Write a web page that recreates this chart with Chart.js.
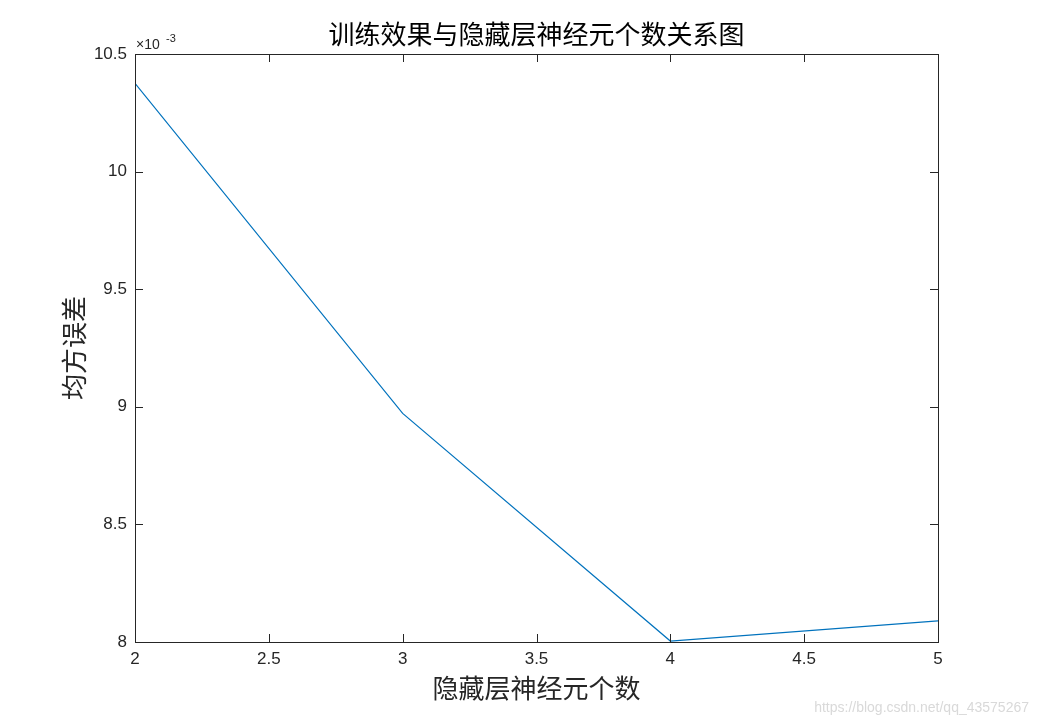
<!DOCTYPE html>
<html>
<head>
<meta charset="utf-8">
<script src="https://cdn.jsdelivr.net/npm/chart.js@4/dist/chart.umd.min.js"></script>
<style>
  html, body { margin: 0; padding: 0; background: #fff; }
  #wrap { width: 1038px; height: 722px; position: relative; }
</style>
</head>
<body>
<div id="wrap"><canvas id="chart"></canvas></div>
<script>
// 隐藏层神经元个数 vs 均方误差 (x1e-3)
var neurons = [2, 3, 4, 5];
var mse = [10.375, 8.972, 8.004, 8.090];
var xTicks = [2, 2.5, 3, 3.5, 4, 4.5, 5];
var yTicks = [8, 8.5, 9, 9.5, 10, 10.5];
var chartTitle = "训练效果与隐藏层神经元个数关系图";

var axisColor = "#262626";
var cjkFont = "'Noto Sans CJK SC', sans-serif";
var numFont = "'Liberation Sans', Arial, sans-serif";

// MATLAB style box with ticks pointing inward, title over the axes, exponent label
var matlabBox = {
    id: "matlabBox",
    afterDatasetsDraw: function (chart) {
        var ctx = chart.ctx;
        var area = chart.chartArea;
        var x = chart.scales.x;
        var y = chart.scales.y;
        var len = 8;
        ctx.save();
        ctx.strokeStyle = axisColor;
        ctx.lineWidth = 1;
        ctx.beginPath();
        xTicks.forEach(function (v) {
            var px = Math.round(x.getPixelForValue(v)) + 0.5;
            ctx.moveTo(px, area.bottom);
            ctx.lineTo(px, area.bottom - len);
            ctx.moveTo(px, area.top);
            ctx.lineTo(px, area.top + len);
        });
        yTicks.forEach(function (v) {
            var py = Math.round(y.getPixelForValue(v)) + 0.5;
            ctx.moveTo(area.left, py);
            ctx.lineTo(area.left + len, py);
            ctx.moveTo(area.right, py);
            ctx.lineTo(area.right - len, py);
        });
        ctx.stroke();
        ctx.strokeRect(Math.round(area.left) + 0.5, Math.round(area.top) + 0.5,
            Math.round(area.right - area.left), Math.round(area.bottom - area.top));

        // title centred over the axes box
        ctx.fillStyle = "#000";
        ctx.textAlign = "center";
        ctx.textBaseline = "middle";
        ctx.font = "26px " + cjkFont;
        ctx.fillText(chartTitle, (area.left + area.right) / 2, 34);

        ctx.fillStyle = axisColor;
        ctx.textBaseline = "alphabetic";
        ctx.textAlign = "left";
        ctx.font = "14px " + numFont;
        ctx.fillText("\u00d710", area.left + 1, area.top - 5);
        ctx.font = "11px " + numFont;
        ctx.fillText("-3", area.left + 31, area.top - 12);

        ctx.fillStyle = "#d9d9d9";
        ctx.textAlign = "right";
        ctx.font = "14px " + numFont;
        ctx.fillText("https://blog.csdn.net/qq_43575267", 1029, 712);
        ctx.restore();
    }
};

var ctx = document.getElementById("chart").getContext("2d");
var chart = new Chart(ctx, {
    type: "line",
    data: {
        datasets: [{
            label: "均方误差",
            data: neurons.map(function (n, i) { return { x: n, y: mse[i] }; }),
            borderColor: "#0072BD",
            backgroundColor: "rgba(0,0,0,0)",
            borderWidth: 1.2,
            pointRadius: 0,
            tension: 0
        }]
    },
    options: {
        responsive: true,
        maintainAspectRatio: false,
        animation: false,
        layout: { padding: { left: 0, right: 100, top: 54, bottom: 0 } },
        plugins: {
            legend: { display: false },
            tooltip: { enabled: false },
            title: { display: false }
        },
        scales: {
            x: {
                type: "linear",
                min: 2,
                max: 5,
                afterBuildTicks: function (scale) {
                    scale.ticks = xTicks.map(function (v) { return { value: v }; });
                },
                afterFit: function (scale) { scale.height = 80; },
                grid: { display: false, drawTicks: false },
                border: { display: false },
                ticks: {
                    color: axisColor,
                    padding: 7,
                    maxRotation: 0,
                    font: { family: numFont, size: 17 },
                    callback: function (v) { return String(v); }
                },
                title: {
                    display: true,
                    text: "隐藏层神经元个数",
                    color: axisColor,
                    font: { family: cjkFont, size: 26, lineHeight: 1.2 },
                    padding: { top: 0, bottom: 18 }
                }
            },
            y: {
                type: "linear",
                min: 8,
                max: 10.5,
                afterBuildTicks: function (scale) {
                    scale.ticks = yTicks.map(function (v) { return { value: v }; });
                },
                afterFit: function (scale) { scale.width = 135; },
                grid: { display: false, drawTicks: false },
                border: { display: false },
                ticks: {
                    color: axisColor,
                    padding: 8,
                    font: { family: numFont, size: 17 },
                    callback: function (v) { return String(v); }
                },
                title: {
                    display: true,
                    text: "均方误差",
                    color: axisColor,
                    font: { family: cjkFont, size: 26, lineHeight: 1.2 },
                    padding: { top: 59, bottom: 0 }
                }
            }
        }
    },
    plugins: [matlabBox]
});
</script>
</body>
</html>
